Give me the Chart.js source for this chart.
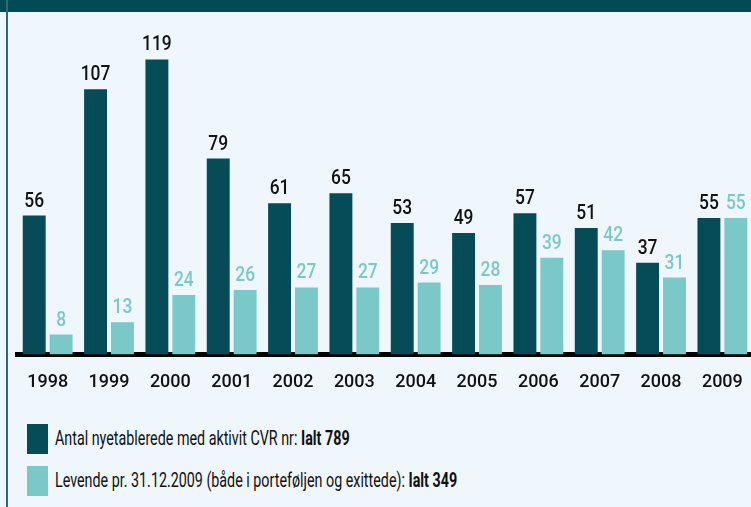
<!DOCTYPE html>
<html>
<head>
  <title>Nyetablerede virksomheder</title>
  <script src="https://cdn.jsdelivr.net/npm/chart.js"></script>
  <style>
    body { margin: 0; background: #eff6fc; overflow: hidden; width: 751px; height: 507px; position: relative; }
    #top { position: absolute; left: 0; top: 0; width: 751px; height: 12px; background: #034a56; }
    #kant { position: absolute; left: 6px; top: 0; width: 2px; height: 507px; background: #2f6a73; }
    #wrap { position: absolute; left: 0; top: 0; }
    .leg { position: absolute; left: 27px; font-family: Roboto, sans-serif; font-size: 20px; color: #111; }
    .leg span.box { position: absolute; left: 0; top: 0; width: 21px; height: 30px; }
    .leg span.txt { position: absolute; left: 28px; top: 2px; white-space: nowrap; transform: scaleX(0.715); transform-origin: 0 0; }
  </style>
</head>
<body>
  <div id="top"></div>
  <div id="kant"></div>
  <div id="wrap"><canvas id="myChart" width="760" height="420"></canvas></div>
  <div class="leg" id="leg1" style="top:424px"></div>
  <div class="leg" id="leg2" style="top:466px"></div>
  <script>
    // Data
    var aar = ['1998','1999','2000','2001','2002','2003','2004','2005','2006','2007','2008','2009'];
    var nyetablerede = [56, 107, 119, 79, 61, 65, 53, 49, 57, 51, 37, 55];
    var levende = [8, 13, 24, 26, 27, 27, 29, 28, 39, 42, 31, 55];
    var navne = ['Antal nyetablerede med aktivit CVR nr: ', 'Levende pr. 31.12.2009 (både i porteføljen og exittede): '];
    var ialt = ['Ialt 789', 'Ialt 349'];

    var moerk = '#064b58';
    var lys = '#7ac9c8';

    // Tal over søjlerne
    var talPlugin = {
      id: 'tal',
      afterDatasetsDraw: function(chart) {
        var ctx = chart.ctx;
        chart.data.datasets.forEach(function(ds, i) {
          chart.getDatasetMeta(i).data.forEach(function(bar, j) {
            ctx.save();
            ctx.translate(bar.x, bar.y - 9);
            ctx.scale(0.87, 1);
            ctx.font = '500 20px Roboto, sans-serif';
            ctx.textAlign = 'center';
            ctx.textBaseline = 'alphabetic';
            ctx.fillStyle = i == 0 ? '#111111' : lys;
            ctx.fillText(ds.data[j], 0, 0);
            ctx.restore();
          });
        });
      }
    };

    var ctx = document.getElementById('myChart').getContext('2d');
    new Chart(ctx, {
      type: 'bar',
      data: {
        labels: aar,
        datasets: [
          { label: navne[0] + ialt[0], data: nyetablerede, backgroundColor: moerk },
          { label: navne[1] + ialt[1], data: levende, backgroundColor: lys }
        ]
      },
      options: {
        responsive: false,
        animation: false,
        layout: { padding: { left: 17, right: 4, top: 0, bottom: 10 } },
        datasets: { bar: { categoryPercentage: 0.877, barPercentage: 0.852 } },
        plugins: { legend: { display: false }, tooltip: { enabled: false } },
        scales: {
          x: {
            grid: { display: false, drawTicks: false },
            border: { display: true, color: '#000000', width: 5 },
            ticks: { color: '#111111', padding: 17, font: { family: 'Roboto, sans-serif', size: 18, weight: '500' } }
          },
          y: { display: false, min: 0, max: 143 }
        }
      },
      plugins: [talPlugin]
    });

    // Forklaring
    [['leg1', moerk], ['leg2', lys]].forEach(function(l, i) {
      var el = document.getElementById(l[0]);
      el.innerHTML = '<span class="box" style="background:' + l[1] + '"></span>' +
        '<span class="txt">' + navne[i] + '<b>' + ialt[i] + '</b></span>';
    });
  </script>
</body>
</html>
